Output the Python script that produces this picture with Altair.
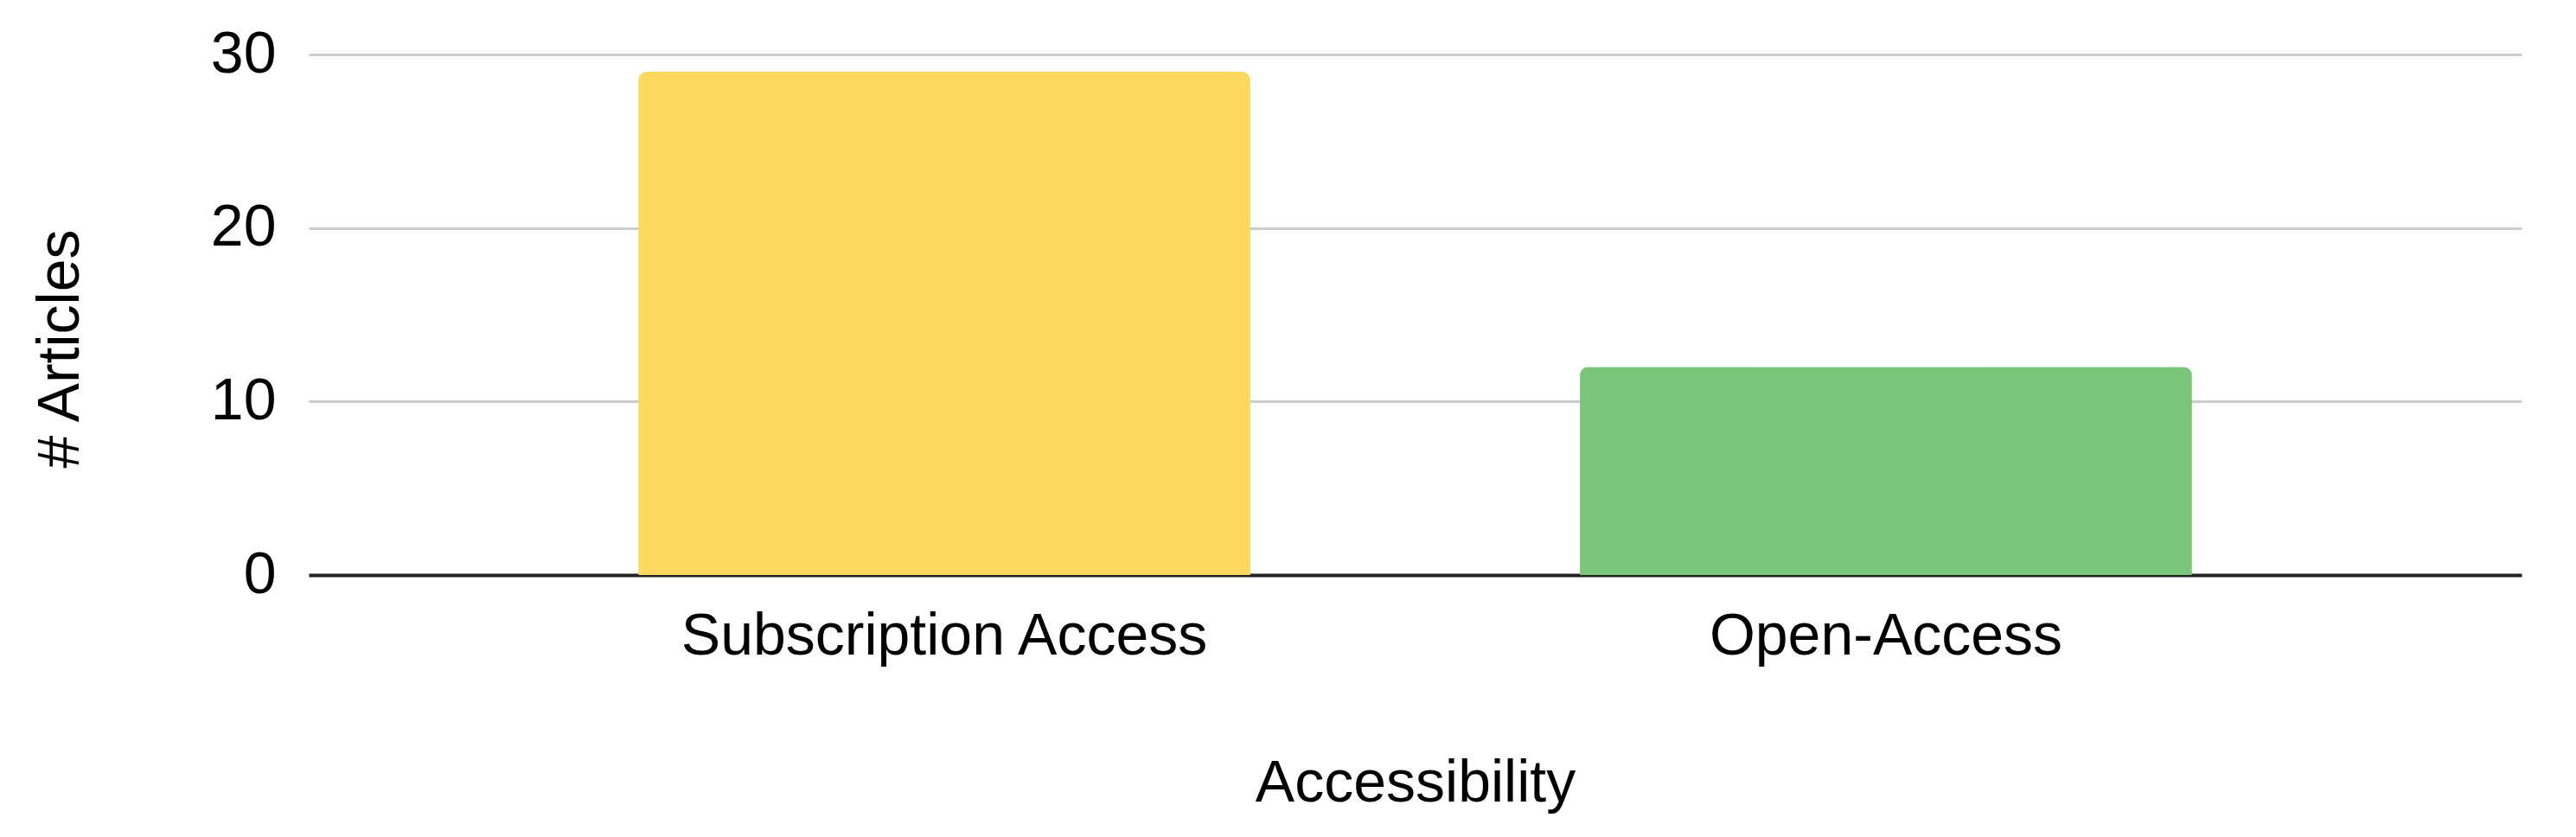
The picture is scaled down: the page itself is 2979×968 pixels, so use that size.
import altair as alt
import pandas as pd

categories = ["Subscription Access", "Open-Access"]
articles = [29, 12]
colors = ["#FDD85E", "#7BC57B"]

df = pd.DataFrame({"Accessibility": categories, "Articles": articles, "color": colors})

FONT = "Liberation Sans"

chart = alt.Chart(df).mark_bar(cornerRadiusTopLeft=10, cornerRadiusTopRight=10).encode(
    x=alt.X("Accessibility:N", sort=categories,
            scale=alt.Scale(paddingInner=0.35, paddingOuter=0.35),
            axis=alt.Axis(title="Accessibility", labelAngle=0, ticks=False,
                          domainColor="#222222", domainWidth=4,
                          labelFontSize=68, labelFont=FONT, labelColor="#000000",
                          labelPadding=37, labelLimit=0,
                          titleFontSize=68, titleFont=FONT, titleFontWeight="normal",
                          titleColor="#000000", titleY=241, titleBaseline="middle")),
    y=alt.Y("Articles:Q", scale=alt.Scale(domain=[0, 30]),
            axis=alt.Axis(title="# Articles", values=[0, 10, 20, 30], ticks=False, domain=False,
                          gridColor="#CCCCCC", gridWidth=3,
                          labelFontSize=68, labelFont=FONT, labelColor="#000000",
                          labelPadding=38,
                          titleFontSize=68, titleFont=FONT, titleFontWeight="normal",
                          titleColor="#000000", titleAngle=-90, titleAlign="center",
                          titleBaseline="middle", titleX=-287, titleY=340)),
    color=alt.Color("color:N", scale=None, legend=None),
).properties(
    width=2559, height=602,
    autosize=alt.AutoSizeParams(type="none"),
    padding={"left": 349, "top": 55, "right": 55, "bottom": 295},
).configure_view(stroke=None)

chart.save("out.html", embed_options={"renderer": "svg", "actions": False})
